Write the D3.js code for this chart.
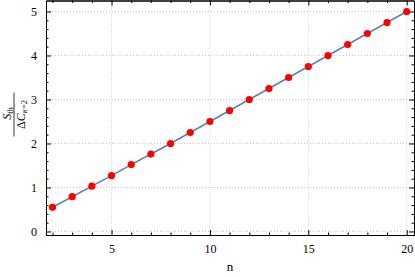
<!DOCTYPE html>
<html>
<head>
<meta charset="utf-8">
<script src="https://cdn.jsdelivr.net/npm/d3@7"></script>
<style>
  body { margin: 0; background: #fff; }
  text { font-family: "Liberation Serif", "DejaVu Serif", serif; }
</style>
</head>
<body>
<svg id="chart" width="415" height="277"></svg>
<script>
// data
const nValues = [2, 3, 4, 5, 6, 7, 8, 9, 10, 11, 12, 13, 14, 15, 16, 17, 18, 19, 20];
const ratioValues = [0.55, 0.79, 1.03, 1.27, 1.52, 1.76, 2.0, 2.25, 2.5, 2.75, 3.0, 3.25, 3.5, 3.75, 4.0, 4.25, 4.5, 4.75, 5.0];
const xTicks = [5, 10, 15, 20];
const yTicks = [0, 1, 2, 3, 4, 5];

const data = nValues.map((n, i) => ({n: n, v: ratioValues[i]}));

// plot frame
let margin = {top: 0.5, right: 1, bottom: 42, left: 46},
    width = 415 - margin.left - margin.right,
    height = 277 - margin.top - margin.bottom;

let svg = d3.select("#chart")
            .append("g")
            .attr("transform", "translate(" + margin.left + "," + margin.top + ")");

let x = d3.scaleLinear().domain([1.67, 20.37]).range([0, width]);
let y = d3.scaleLinear().domain([-0.08, 5.25]).range([height, 0]);

// dotted grid
svg.append("g")
   .selectAll("line")
   .data(xTicks)
   .join("line")
   .attr("x1", d => x(d)).attr("x2", d => x(d))
   .attr("y1", 0).attr("y2", height)
   .attr("stroke", "#c8c8c8")
   .attr("stroke-dasharray", "1,2");
svg.append("g")
   .selectAll("line")
   .data(yTicks)
   .join("line")
   .attr("x1", 0).attr("x2", width)
   .attr("y1", d => y(d)).attr("y2", d => y(d))
   .attr("stroke", "#c8c8c8")
   .attr("stroke-dasharray", "1,2");

const xMinor = d3.range(2, 21).filter(d => xTicks.indexOf(d) < 0);
const yMinor = d3.range(0, 52, 2).map(d => d / 10).filter(d => yTicks.indexOf(d) < 0);

function styleAxis(g) {
  g.select(".domain").attr("stroke", "#000");
  g.selectAll(".tick line").attr("stroke", "#000");
  g.selectAll("text").attr("font-size", "12px").attr("fill", "#000");
}

// bottom / left axes with labels
svg.append("g").attr("transform", "translate(0," + height + ")")
   .call(d3.axisBottom(x).tickValues(xTicks).tickSize(-5).tickSizeOuter(0).tickPadding(9).tickFormat(d3.format("d")))
   .call(styleAxis);
svg.append("g").attr("transform", "translate(0," + height + ")")
   .call(d3.axisBottom(x).tickValues(xMinor).tickSize(-2.5).tickSizeOuter(0).tickFormat(""))
   .call(styleAxis);
svg.append("g")
   .call(d3.axisLeft(y).tickValues(yTicks).tickSize(-5).tickSizeOuter(0).tickPadding(9).tickFormat(d3.format("d")))
   .call(styleAxis);
svg.append("g")
   .call(d3.axisLeft(y).tickValues(yMinor).tickSize(-2.5).tickSizeOuter(0).tickFormat(""))
   .call(styleAxis);

// mirrored ticks on top / right
svg.append("g")
   .call(d3.axisTop(x).tickValues(xTicks).tickSize(-5).tickSizeOuter(0).tickFormat(""))
   .call(styleAxis);
svg.append("g")
   .call(d3.axisTop(x).tickValues(xMinor).tickSize(-2.5).tickSizeOuter(0).tickFormat(""))
   .call(styleAxis);
svg.append("g").attr("transform", "translate(" + width + ",0)")
   .call(d3.axisRight(y).tickValues(yTicks).tickSize(-5).tickSizeOuter(0).tickFormat(""))
   .call(styleAxis);
svg.append("g").attr("transform", "translate(" + width + ",0)")
   .call(d3.axisRight(y).tickValues(yMinor).tickSize(-2.5).tickSizeOuter(0).tickFormat(""))
   .call(styleAxis);

// line
svg.append("path")
   .datum(data)
   .attr("fill", "none")
   .attr("stroke", "#5e81b5")
   .attr("stroke-width", 1.6)
   .attr("d", d3.line().x(d => x(d.n)).y(d => y(d.v)));

// points
svg.append("g")
   .selectAll("circle")
   .data(data)
   .join("circle")
   .attr("cx", d => x(d.n))
   .attr("cy", d => y(d.v))
   .attr("r", 3.6)
   .attr("fill", "#ff0000");

// x label
svg.append("text")
   .attr("x", width / 2)
   .attr("y", height + 36)
   .attr("text-anchor", "middle")
   .attr("font-size", "13px")
   .text("n");

// y label as a fraction, rotated
let yl = svg.append("g")
            .attr("transform", "translate(" + (-32) + "," + 114 + ") rotate(-90)");
let num = yl.append("text")
   .attr("x", 1).attr("y", -3)
   .attr("text-anchor", "middle")
   .attr("font-size", "12px")
   .attr("font-style", "italic");
num.append("tspan").text("S");
num.append("tspan").attr("font-size", "8.5px").attr("font-style", "normal").attr("dy", 2).text("th");
yl.append("line")
  .attr("x1", -22).attr("x2", 22)
  .attr("y1", 0).attr("y2", 0)
  .attr("stroke", "#000")
  .attr("stroke-width", 0.8);
let den = yl.append("text")
   .attr("x", 0).attr("y", 11)
   .attr("text-anchor", "middle")
   .attr("font-size", "12px");
den.append("tspan").text("Δ");
den.append("tspan").attr("font-style", "italic").text("C");
den.append("tspan").attr("font-size", "8.5px").attr("font-style", "italic").attr("dy", 2).text("κ");
den.append("tspan").attr("font-size", "8.5px").text("=2");
</script>
</body>
</html>
